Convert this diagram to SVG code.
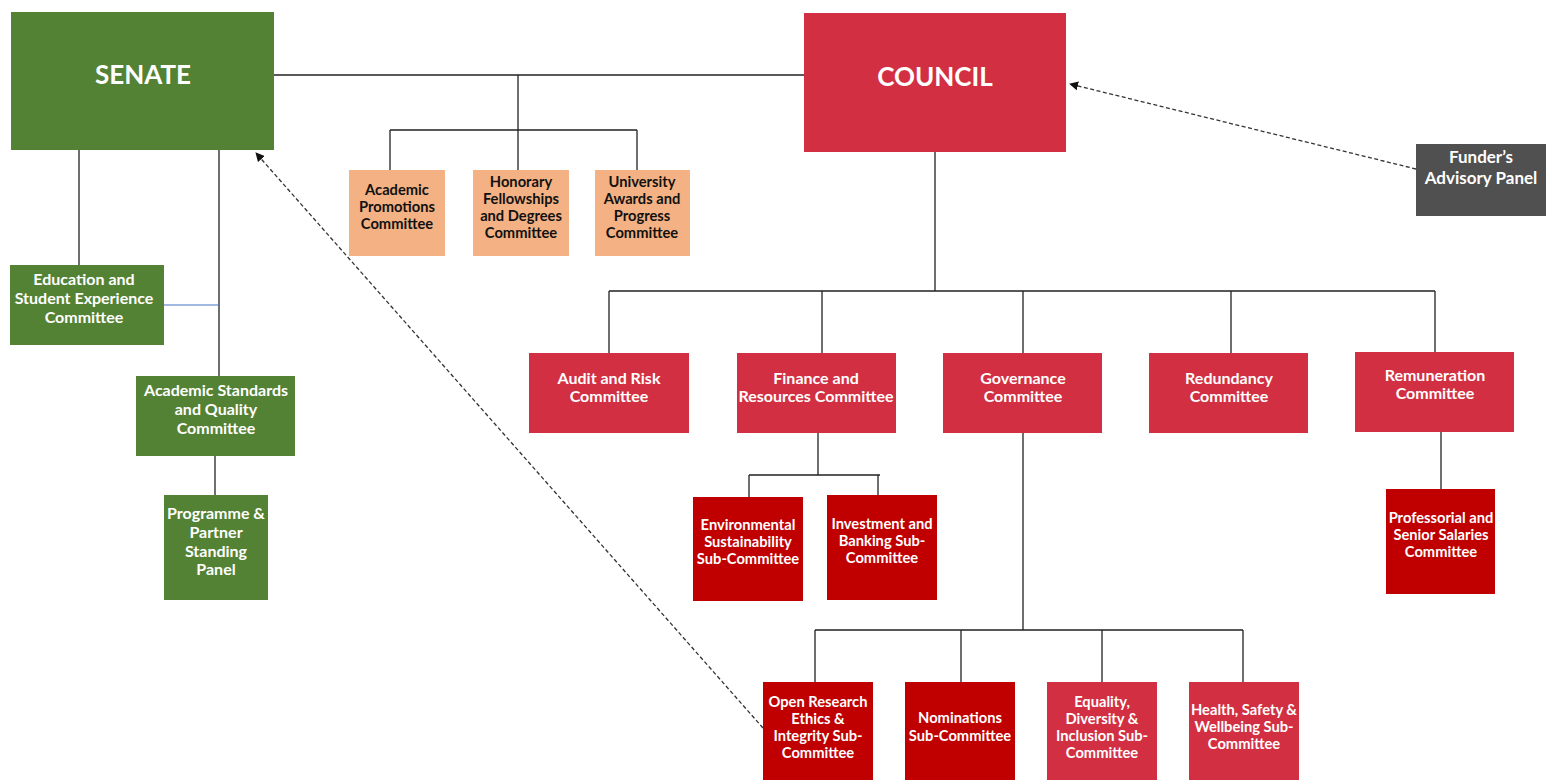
<svg xmlns="http://www.w3.org/2000/svg" width="1546" height="780" viewBox="0 0 1546 780">
<style>
.g{fill:#548235}
.o{fill:#F4B183}
.r{fill:#D32F42}
.d{fill:#C00000}
.k{fill:#505050}
text{font-family:Lato,"Open Sans","Liberation Sans",sans-serif;font-weight:bold;font-size:14.7px;text-anchor:middle}
.w{fill:#FFFFFF}
.b{fill:#111111}
.l{font-size:16px}
.f{font-size:17px}
.big{font-size:26px}
.ln{stroke:#222;stroke-width:1.3;fill:none}
.blue{stroke:#4472C4;stroke-width:1.2;fill:none}
.dash{stroke:#333;stroke-width:1.3;stroke-dasharray:4 2.5;fill:none}
</style>
<defs>
<marker id="ah" viewBox="0 0 10 10" refX="9" refY="5" markerWidth="9" markerHeight="9" orient="auto" markerUnits="userSpaceOnUse">
<path d="M0,0 L10,5 L0,10 z" fill="#111"/>
</marker>
</defs>
<rect width="1546" height="780" fill="#FFFFFF"/>
<g id="connectors">
<path class="ln" d="M274,75 H804"/>
<path class="ln" d="M518,75 V130 M390,130 H637 M390,130 V170 M518,130 V170 M637,130 V170"/>
<path class="ln" d="M79,150 V265 M219,150 V376"/>
<path class="blue" d="M164,305 H219"/>
<path class="ln" d="M215,456 V495"/>
<path class="ln" d="M935,152 V291 M609,291 H1435 M609,291 V353 M822,291 V353 M1023,291 V353 M1231,291 V353 M1435,291 V352"/>
<path class="ln" d="M818,433 V475 M749,475 H880 M749,475 V497 M878,475 V495"/>
<path class="ln" d="M1023,433 V630 M815,630 H1243 M815,630 V682 M961,630 V682 M1102,630 V682 M1243,630 V682"/>
<path class="ln" d="M1441,432 V489"/>
<path class="dash" d="M1416,169 L1070,84" marker-end="url(#ah)"/>
<path class="dash" d="M763,728 L256,153" marker-end="url(#ah)"/>
</g>
<g id="senate"><rect class="g" x="11" y="12" width="263" height="138"/><text class="w big" x="143" y="84">SENATE</text></g>
<g id="council"><rect class="r" x="804" y="13" width="262" height="139"/><text class="w big" x="935" y="86">COUNCIL</text></g>
<g id="funders"><rect class="k" x="1416" y="144" width="130" height="72"/><text class="w f" x="1481" y="163">Funder’s</text><text class="w f" x="1481" y="184">Advisory Panel</text></g>
<g id="acad-prom"><rect class="o" x="349" y="170" width="96" height="86"/><text class="b" x="397" y="195">Academic</text><text class="b" x="397" y="212">Promotions</text><text class="b" x="397" y="229">Committee</text></g>
<g id="honorary"><rect class="o" x="473" y="170" width="96" height="86"/><text class="b" x="521" y="187">Honorary</text><text class="b" x="521" y="204">Fellowships</text><text class="b" x="521" y="221">and Degrees</text><text class="b" x="521" y="238">Committee</text></g>
<g id="univ-awards"><rect class="o" x="595" y="170" width="95" height="86"/><text class="b" x="642" y="187">University</text><text class="b" x="642" y="204">Awards and</text><text class="b" x="642" y="221">Progress</text><text class="b" x="642" y="238">Committee</text></g>
<g id="education"><rect class="g" x="10" y="265" width="154" height="80"/><text class="w l" x="84" y="285">Education and</text><text class="w l" x="84" y="304">Student Experience</text><text class="w l" x="84" y="323">Committee</text></g>
<g id="acad-std"><rect class="g" x="136" y="376" width="159" height="80"/><text class="w l" x="216" y="396">Academic Standards</text><text class="w l" x="216" y="415">and Quality</text><text class="w l" x="216" y="434">Committee</text></g>
<g id="programme"><rect class="g" x="164" y="495" width="104" height="105"/><text class="w l" x="216" y="519">Programme &amp;</text><text class="w l" x="216" y="538">Partner</text><text class="w l" x="216" y="557">Standing</text><text class="w l" x="216" y="575">Panel</text></g>
<g id="audit"><rect class="r" x="529" y="353" width="160" height="80"/><text class="w l" x="609" y="384">Audit and Risk</text><text class="w l" x="609" y="402">Committee</text></g>
<g id="finance"><rect class="r" x="737" y="353" width="159" height="80"/><text class="w l" x="816" y="384">Finance and</text><text class="w l" x="816" y="402">Resources Committee</text></g>
<g id="governance"><rect class="r" x="943" y="353" width="159" height="80"/><text class="w l" x="1023" y="384">Governance</text><text class="w l" x="1023" y="402">Committee</text></g>
<g id="redundancy"><rect class="r" x="1149" y="353" width="159" height="80"/><text class="w l" x="1229" y="384">Redundancy</text><text class="w l" x="1229" y="402">Committee</text></g>
<g id="remuneration"><rect class="r" x="1355" y="352" width="159" height="80"/><text class="w l" x="1435" y="381">Remuneration</text><text class="w l" x="1435" y="399">Committee</text></g>
<g id="environmental"><rect class="d" x="693" y="497" width="110" height="104"/><text class="w" x="748" y="530">Environmental</text><text class="w" x="748" y="547">Sustainability</text><text class="w" x="748" y="564">Sub-Committee</text></g>
<g id="investment"><rect class="d" x="827" y="495" width="110" height="105"/><text class="w" x="882" y="529">Investment and</text><text class="w" x="882" y="546">Banking Sub-</text><text class="w" x="882" y="563">Committee</text></g>
<g id="professorial"><rect class="d" x="1386" y="489" width="109" height="105"/><text class="w" x="1441" y="523">Professorial and</text><text class="w" x="1441" y="540">Senior Salaries</text><text class="w" x="1441" y="557">Committee</text></g>
<g id="open-research"><rect class="d" x="763" y="682" width="110" height="98"/><text class="w" x="818" y="707">Open Research</text><text class="w" x="818" y="724">Ethics &amp;</text><text class="w" x="818" y="741">Integrity Sub-</text><text class="w" x="818" y="758">Committee</text></g>
<g id="nominations"><rect class="d" x="905" y="682" width="110" height="98"/><text class="w" x="960" y="723">Nominations</text><text class="w" x="960" y="741">Sub-Committee</text></g>
<g id="equality"><rect class="r" x="1047" y="682" width="110" height="98"/><text class="w" x="1102" y="707">Equality,</text><text class="w" x="1102" y="724">Diversity &amp;</text><text class="w" x="1102" y="741">Inclusion Sub-</text><text class="w" x="1102" y="758">Committee</text></g>
<g id="health"><rect class="r" x="1189" y="682" width="110" height="98"/><text class="w" x="1244" y="715">Health, Safety &amp;</text><text class="w" x="1244" y="732">Wellbeing Sub-</text><text class="w" x="1244" y="749">Committee</text></g>
</svg>
